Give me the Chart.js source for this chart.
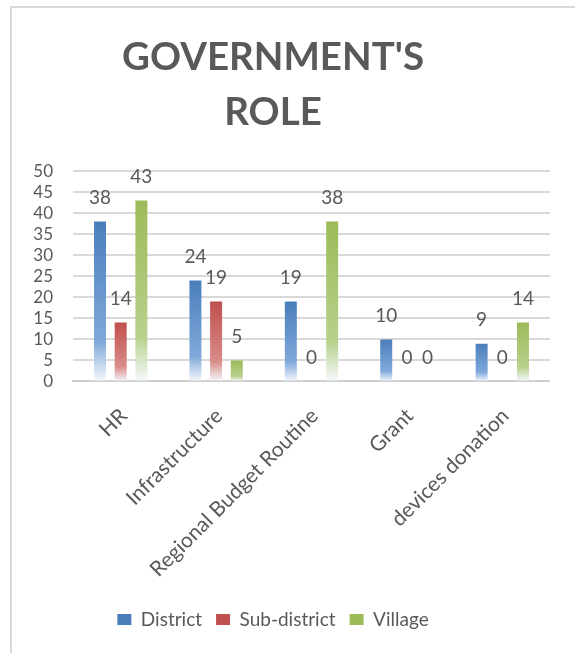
<!DOCTYPE html>
<html>
<head>
<meta charset="utf-8">
<script src="https://cdn.jsdelivr.net/npm/chart.js@4"></script>
<style>
  html, body { margin: 0; padding: 0; background: #fff; overflow: hidden; }
  body { width: 575px; height: 653px; position: relative; }
  #frame { position: absolute; left: 10px; top: 6px; width: 700px; height: 800px;
           border-top: 2px solid #d9d9d9; border-left: 2px solid #d9d9d9; }
  #govChart { position: absolute; left: -14px; top: 0; }
</style>
</head>
<body>
<div id="frame"></div>
<canvas id="govChart" width="564" height="653"></canvas>
<script>
// Données du graphique
const categories = ["HR", "Infrastructure", "Regional Budget Routine", "Grant", "devices donation"];
const districtValues = [38, 24, 19, 10, 9];
const subDistrictValues = [14, 19, 0, 0, 0];
const villageValues = [43, 5, 38, 0, 14];
const yTicks = [0, 5, 10, 15, 20, 25, 30, 35, 40, 45, 50];

const textColor = "#595959";
const baseColors = ["#4A7EBB", "#C0504D", "#9BBB59"];

// Dégradé vertical pour chaque barre (plus clair vers le bas)
function barFill(base, light) {
  return function (ctx) {
    const chart = ctx.chart;
    if (!chart.chartArea || ctx.type !== "data") return base;
    const yScale = chart.scales.y;
    const top = yScale.getPixelForValue(ctx.raw);
    const bottom = yScale.getPixelForValue(0);
    if (bottom - top < 1) return base;
    const g = chart.ctx.createLinearGradient(0, top, 0, bottom);
    g.addColorStop(0, base);
    g.addColorStop(0.75, light);
    g.addColorStop(1, "#f6f9fc");
    return g;
  };
}

// Étiquettes de valeurs au-dessus des barres
const valueLabels = {
  id: "valueLabels",
  afterDatasetsDraw(chart) {
    const ctx = chart.ctx;
    ctx.save();
    ctx.font = "19px Lato";
    ctx.fillStyle = textColor;
    ctx.textAlign = "center";
    ctx.textBaseline = "middle";
    chart.data.datasets.forEach(function (ds, i) {
      chart.getDatasetMeta(i).data.forEach(function (bar, j) {
        ctx.fillText(String(ds.data[j]), bar.x, bar.y - 24);
      });
    });
    ctx.restore();
  }
};

const ctx = document.getElementById("govChart").getContext("2d");

new Chart(ctx, {
  type: "bar",
  data: {
    labels: categories,
    datasets: [
      { label: "District", data: districtValues, backgroundColor: barFill(baseColors[0], "#7FA9DA") },
      { label: "Sub-district", data: subDistrictValues, backgroundColor: barFill(baseColors[1], "#D98C8A") },
      { label: "Village", data: villageValues, backgroundColor: barFill(baseColors[2], "#B7D18C") }
    ]
  },
  options: {
    responsive: false,
    animation: false,
    layout: { padding: { left: 10, right: 0, top: 0, bottom: 14 } },
    datasets: { bar: { categoryPercentage: 0.65, barPercentage: 0.58 } },
    plugins: {
      title: {
        display: true,
        text: ["GOVERNMENT'S", "ROLE"],
        color: textColor,
        font: { family: "Lato", size: 38.5, weight: "bold", lineHeight: 1.43 },
        padding: { top: 30, bottom: 31 }
      },
      legend: {
        position: "bottom",
        labels: {
          color: textColor,
          font: { family: "Lato", size: 19 },
          boxWidth: 14,
          boxHeight: 11,
          padding: 14,
          generateLabels: function (chart) {
            const items = Chart.defaults.plugins.legend.labels.generateLabels(chart);
            items.forEach(function (it, i) {
              it.fillStyle = baseColors[i];
              it.strokeStyle = baseColors[i];
              it.lineWidth = 0;
            });
            return items;
          }
        }
      },
      tooltip: { enabled: false }
    },
    scales: {
      x: {
        grid: { display: false },
        border: { display: true, color: "#cfcfcf", width: 2 },
        ticks: {
          color: textColor,
          font: { family: "Lato", size: 21 },
          minRotation: 45,
          maxRotation: 45,
          padding: 14,
          labelOffset: 3
        }
      },
      y: {
        min: 0,
        max: 50,
        afterBuildTicks: function (axis) {
          axis.ticks = yTicks.map(function (v) { return { value: v }; });
        },
        afterFit: function (axis) {
          axis.width = 77;
        },
        grid: { color: "#d9d9d9", lineWidth: 2, drawTicks: false },
        border: { display: false },
        ticks: {
          color: textColor,
          font: { family: "Lato", size: 17 },
          padding: 20,
          autoSkip: false
        }
      }
    }
  },
  plugins: [valueLabels]
});
</script>
</body>
</html>
